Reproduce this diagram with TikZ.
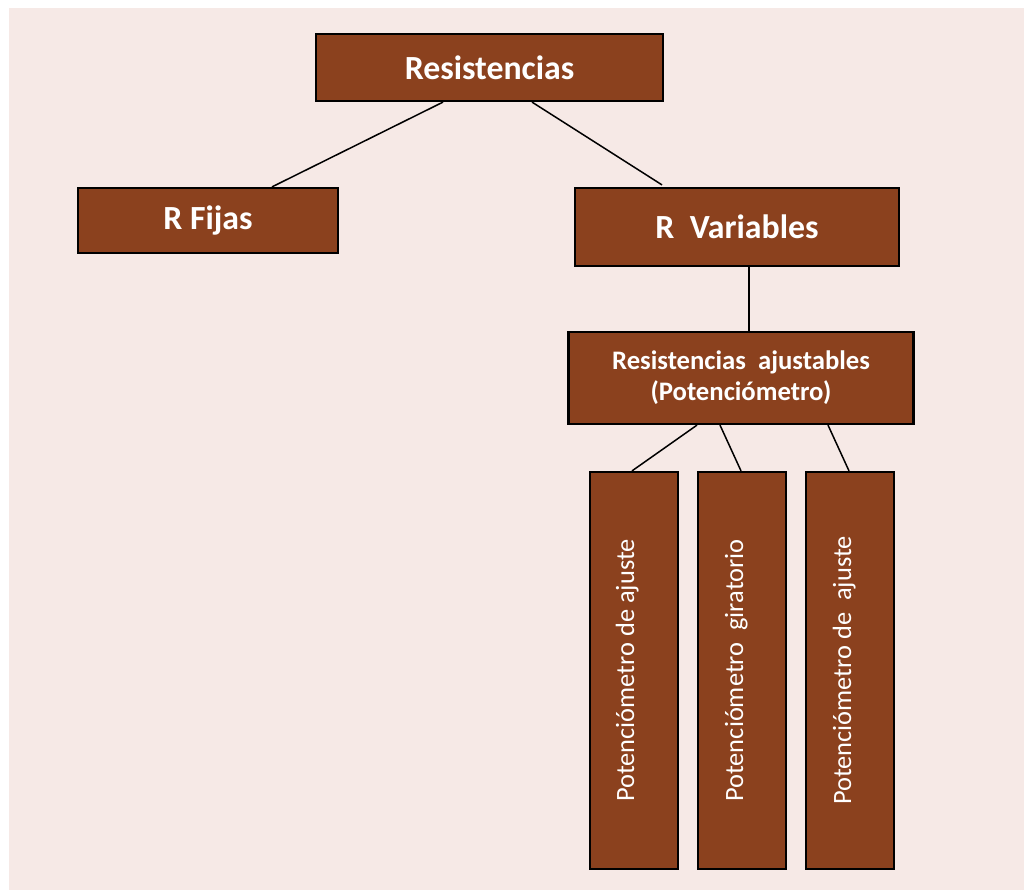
\documentclass[tikz,border=0pt]{standalone}
\usepackage{fontspec}
\setmainfont{Carlito}
\definecolor{bgpink}{HTML}{F6E9E6}
\definecolor{boxbrown}{HTML}{8B411E}
\tikzset{
  box/.style={draw=black, line width=2.2pt, fill=boxbrown, inner sep=0pt, text=white},
  big/.style={font=\bfseries\fontsize{33.8}{38}\selectfont},
  mid/.style={font=\bfseries\fontsize{26.7}{31}\selectfont, align=center},
  vlabel/.style={text=white, rotate=90, anchor=base, inner sep=0pt, font=\fontsize{26.4}{30}\selectfont},
  link/.style={draw=black, line width=1.5pt}
}
\begin{document}
\begin{tikzpicture}[x=1pt,y=-1pt]
\useasboundingbox (0,0) rectangle (1024,890);
\fill[white] (0,0) rectangle (1024,890);
\fill[bgpink] (9,8) rectangle (1024,890);

\node[box, big, minimum width=347pt, minimum height=67pt] (top) at (489.5,67.5) {Resistencias};
\node[box, big, minimum width=260pt, minimum height=65pt] (fijas) at (208,220.5) {R Fijas};
\node[box, big, minimum width=324pt, minimum height=78pt] (var) at (737,227) {R\ \ Variables};
\node[box, mid, minimum width=345pt, minimum height=92pt] (ajus) at (741,378) {Resistencias\ \ ajustables\\(Potenciómetro)};
\node[box, minimum width=88pt, minimum height=397pt] (p1) at (634,670.5) {};
\node[box, minimum width=88pt, minimum height=397pt] (p2) at (742,670.5) {};
\node[box, minimum width=88pt, minimum height=397pt] (p3) at (850,670.5) {};
\node[vlabel] (t1) at (p1.center) {Potenciómetro de ajuste};
\node[vlabel] (t2) at ([xshift=1pt]p2.center) {Potenciómetro\ \ giratorio};
\node[vlabel] (t3) at ([xshift=1pt]p3.center) {Potenciómetro de\ \ ajuste};

\draw[link] ([xshift=-46.5pt]top.south) -- ([xshift=64pt]fijas.north);
\draw[link] ([xshift=42.5pt]top.south) -- ([xshift=-75pt,yshift=2pt]var.north);
\draw[link] ([xshift=12pt]var.south) -- ([xshift=8pt]ajus.north);
\draw[link] ([xshift=-44pt]ajus.south) -- ([xshift=-2pt]p1.north);
\draw[link] ([xshift=-21pt]ajus.south) -- ([xshift=-1pt]p2.north);
\draw[link] ([xshift=87pt]ajus.south) -- ([xshift=-1pt]p3.north);
\end{tikzpicture}
\end{document}
